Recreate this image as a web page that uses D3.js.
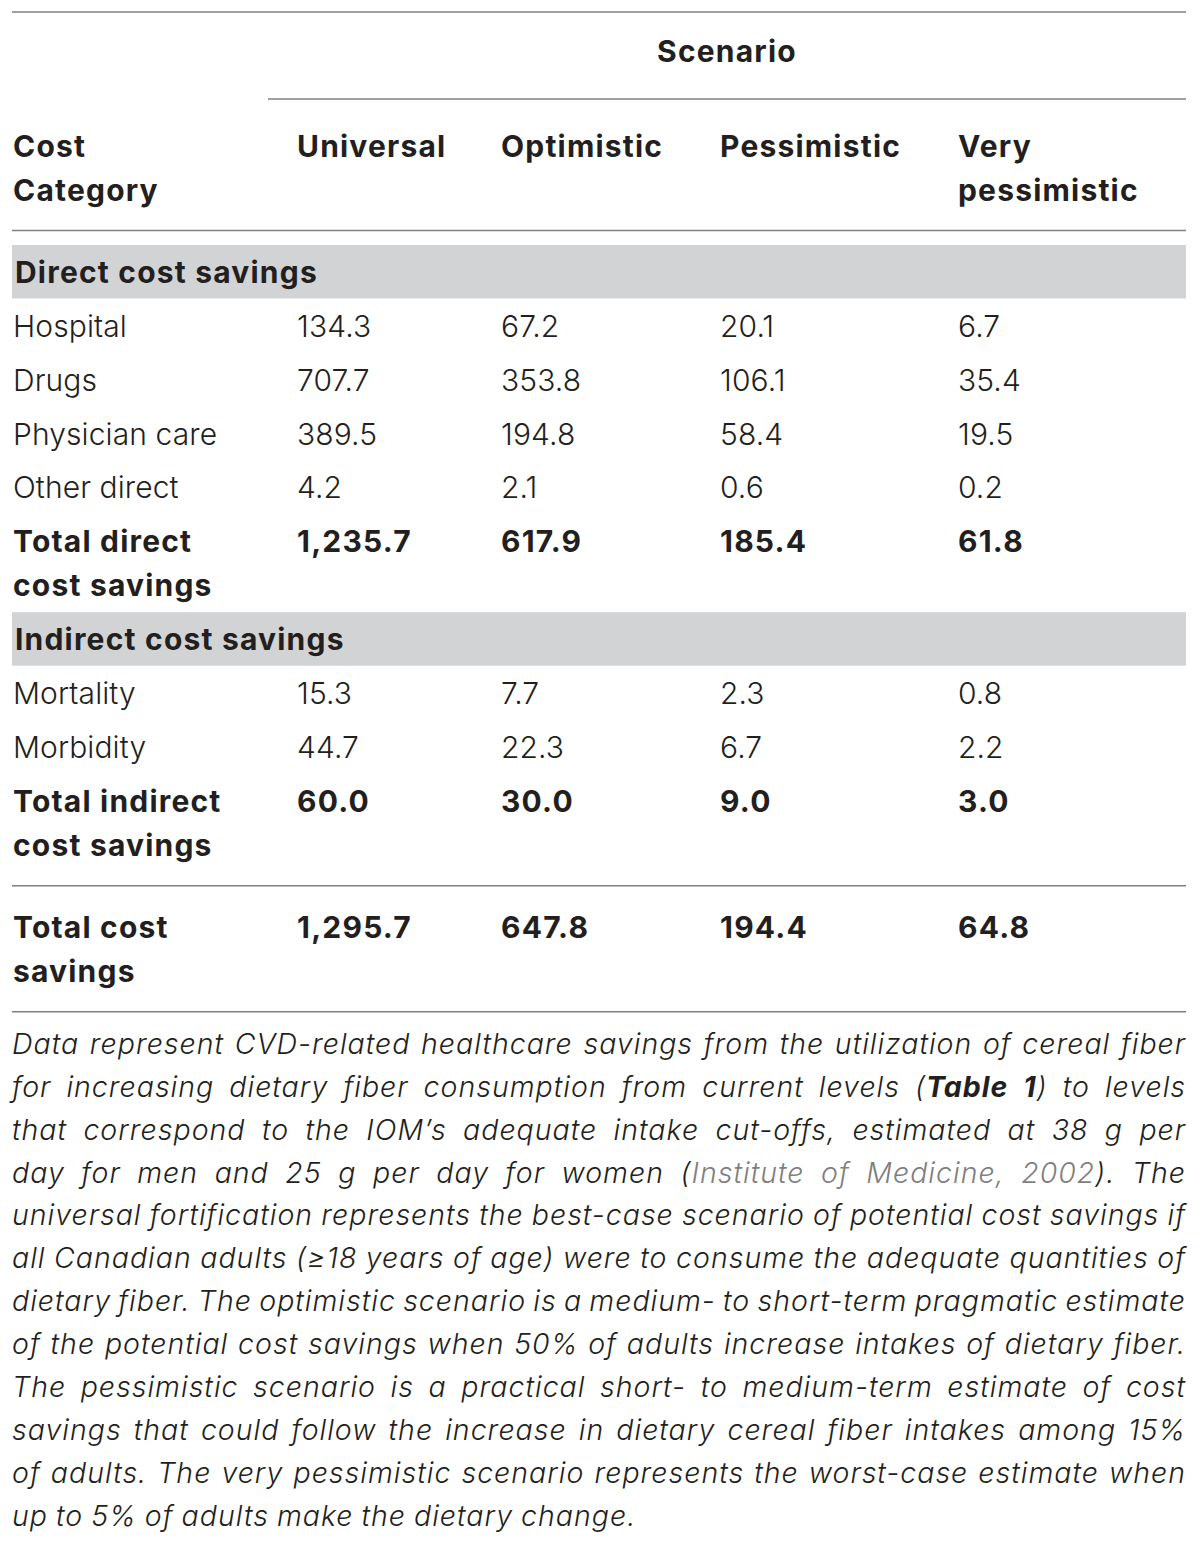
<!DOCTYPE html>
<html>
<head>
<meta charset="utf-8">
<script src="https://cdn.jsdelivr.net/npm/d3@7"></script>
<style>
  html, body { margin: 0; padding: 0; background: #fff; }
  svg { display: block; }
  text { font-family: Inter, "Liberation Sans", sans-serif; fill: #231f20; }
</style>
</head>
<body>
<script>
// table content
const scenarios = ["Universal", "Optimistic", "Pessimistic", "Very\npessimistic"];
const categoryHeader = "Cost\nCategory";

const directCategories = ["Hospital", "Drugs", "Physician care", "Other direct"];
const directValues = [
  [134.3, 67.2, 20.1, 6.7],
  [707.7, 353.8, 106.1, 35.4],
  [389.5, 194.8, 58.4, 19.5],
  [4.2, 2.1, 0.6, 0.2]
];
const totalDirect = [1235.7, 617.9, 185.4, 61.8];

const indirectCategories = ["Mortality", "Morbidity"];
const indirectValues = [
  [15.3, 7.7, 2.3, 0.8],
  [44.7, 22.3, 6.7, 2.2]
];
const totalIndirect = [60.0, 30.0, 9.0, 3.0];
const totalSavings = [1295.7, 647.8, 194.4, 64.8];

// {b:..} bold, {g:..} grey citation
const footnoteLines = [
  "Data represent CVD-related healthcare savings from the utilization of cereal fiber",
  "for increasing dietary fiber consumption from current levels ({b:Table 1}) to levels",
  "that correspond to the IOM\u2019s adequate intake cut-offs, estimated at 38 g per",
  "day for men and 25 g per day for women ({g:Institute of Medicine, 2002}). The",
  "universal fortification represents the best-case scenario of potential cost savings if",
  "all Canadian adults (\u226518 years of age) were to consume the adequate quantities of",
  "dietary fiber. The optimistic scenario is a medium- to short-term pragmatic estimate",
  "of the potential cost savings when 50% of adults increase intakes of dietary fiber.",
  "The pessimistic scenario is a practical short- to medium-term estimate of cost",
  "savings that could follow the increase in dietary cereal fiber intakes among 15%",
  "of adults. The very pessimistic scenario represents the worst-case estimate when",
  "up to 5% of adults make the dietary change."
];

const W = 1200, H = 1544;
const left = 12, right = 1186;
const fs = 30, lineGap = 44, rowPitch = 53.8;
const boldSpacing = 1.2;
const fmt = d3.format(",.1f");

const svg = d3.select("body").append("svg")
  .attr("width", W)
  .attr("height", H);

const colX = d3.scaleOrdinal()
  .domain(["category", ...scenarios])
  .range([13, 297, 501, 720, 958]);

function rule(y, x0) {
  svg.append("line")
    .attr("x1", x0 || left).attr("x2", right)
    .attr("y1", y).attr("y2", y)
    .attr("stroke", "#808080")
    .attr("stroke-width", 1.6);
}

function multiText(x, y, str, bold) {
  const t = svg.append("text")
    .attr("x", x).attr("y", y)
    .attr("font-size", fs)
    .attr("font-weight", bold ? 700 : 300)
    .attr("letter-spacing", bold ? boldSpacing : 0.1);
  str.split("\n").forEach((ln, i) => {
    t.append("tspan").attr("x", x).attr("dy", i ? lineGap : 0).text(ln);
  });
  return t;
}

// header
rule(12);
svg.append("text")
  .attr("x", (268 + right) / 2).attr("y", 62)
  .attr("text-anchor", "middle")
  .attr("font-size", fs).attr("font-weight", 700)
  .attr("letter-spacing", boldSpacing)
  .text("Scenario");
rule(99, 268);

multiText(colX("category"), 157, categoryHeader, true);
scenarios.forEach(s => multiText(colX(s), 157, s, true));
rule(230.5);

// body
function band(top, label) {
  svg.append("rect")
    .attr("x", left).attr("y", top)
    .attr("width", right - left).attr("height", 53.5)
    .attr("fill", "#d1d3d4");
  svg.append("text")
    .attr("x", 15).attr("y", top + 38)
    .attr("font-size", fs).attr("font-weight", 700)
    .attr("letter-spacing", boldSpacing)
    .text(label);
  return top + 53.5;
}

function rows(startY, cats, vals, bold) {
  const y = d3.scaleLinear().domain([0, 1]).range([startY, startY + rowPitch]);
  const g = svg.append("g");
  const r = g.selectAll("g").data(cats.map((c, i) => ({c, v: vals[i], i})))
    .join("g");
  r.each(function(d) {
    multiText(colX("category"), y(d.i), d.c, bold);
    d.v.forEach((v, j) => multiText(colX(scenarios[j]), y(d.i), fmt(v), bold));
  });
  return y(cats.length - 1);
}

let b1 = band(245, "Direct cost savings");
let last = rows(b1 + 38.5, directCategories, directValues, false);
let totY = last + rowPitch;
rows(totY, ["Total direct\ncost savings"], [totalDirect], true);

let b2 = band(totY + lineGap + 16, "Indirect cost savings");
last = rows(b2 + 38.5, indirectCategories, indirectValues, false);
totY = last + rowPitch;
rows(totY, ["Total indirect\ncost savings"], [totalIndirect], true);

let r2 = totY + lineGap + 30;
rule(r2);
rows(r2 + 52, ["Total cost\nsavings"], [totalSavings], true);
let r3 = r2 + 52 + lineGap + 30;
rule(r3);

// footnote, justified by hand
const fnSize = 28.5, fnSpacing = 1.0, fnPitch = 42.9, fnTop = r3 + 42;

function parseLine(str) {
  const segs = [];
  const re = /\{(b|g):([^}]*)\}/g;
  let lastIdx = 0, m;
  while ((m = re.exec(str))) {
    if (m.index > lastIdx) segs.push({t: str.slice(lastIdx, m.index), s: "n"});
    segs.push({t: m[2], s: m[1]});
    lastIdx = re.lastIndex;
  }
  if (lastIdx < str.length) segs.push({t: str.slice(lastIdx), s: "n"});
  const words = [[]];
  segs.forEach(sg => {
    sg.t.split(" ").forEach((piece, i) => {
      if (i > 0) words.push([]);
      if (piece) words[words.length - 1].push({t: piece, s: sg.s});
    });
  });
  return words.filter(w => w.length);
}

const fn = svg.append("g").attr("class", "footnote")
  .attr("font-size", fnSize)
  .attr("font-style", "italic")
  .attr("letter-spacing", fnSpacing);

const spaceW = (() => {
  const t = fn.append("text").attr("font-weight", 300).text("a a");
  const a = fn.append("text").attr("font-weight", 300).text("aa");
  const w = t.node().getComputedTextLength() - a.node().getComputedTextLength();
  t.remove(); a.remove();
  return w;
})();

footnoteLines.forEach((line, li) => {
  const y = fnTop + li * fnPitch;
  const words = parseLine(line);
  const nodes = words.map(w => {
    const t = fn.append("text")
      .attr("y", y)
      .attr("font-weight", 300);
    t.selectAll("tspan").data(w).join("tspan")
      .attr("font-weight", d => d.s === "b" ? 700 : 300)
      .style("fill", d => d.s === "g" ? "#7f7f7f" : "#231f20")
      .text(d => d.t);
    return t;
  });
  const widths = nodes.map(n => n.node().getComputedTextLength() - fnSpacing);
  const total = d3.sum(widths);
  const isLast = li === footnoteLines.length - 1;
  const gap = isLast ? spaceW : (right - 1 - left - total) / (words.length - 1);
  let x = left;
  nodes.forEach((n, i) => {
    n.attr("x", x);
    x += widths[i] + gap;
  });
});
</script>
</body>
</html>
